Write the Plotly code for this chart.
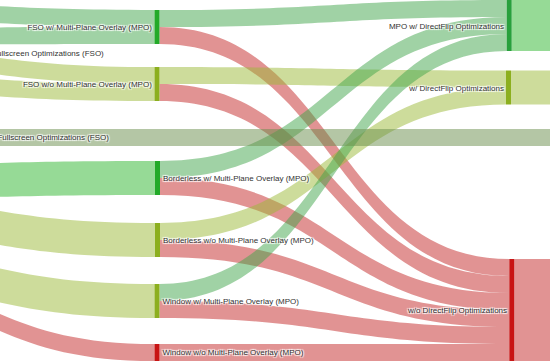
import plotly.graph_objects as go

# ---- data ----
labels = [
    "",                                          # 0  FSO w/ MPO (label via 24)
    "",                                          # 1  FSO w/o MPO (label via 25)
    "Borderless w/ Multi-Plane Overlay (MPO)",   # 2
    "Borderless w/o Multi-Plane Overlay (MPO)",  # 3
    "Window w/ Multi-Plane Overlay (MPO)",       # 4
    "Window w/o Multi-Plane Overlay (MPO)",      # 5
    "", "", "",                                  # 6-8 DirectFlip nodes (labels via 26-28)
    "Fullscreen Optimizations (FSO)",            # 9
    "Fullscreen Optimizations (FSO)",            # 10
    "", "", "", "", "", "", "", "",              # 11-18 upstream (off-canvas)
    "", "", "", "", "",                          # 19-23 downstream (off-canvas)
    "FSO w/ Multi-Plane Overlay (MPO)",          # 24
    "FSO w/o Multi-Plane Overlay (MPO)",         # 25
    "MPO w/ DirectFlip Optimizations",           # 26
    "w/ DirectFlip Optimizations",               # 27
    "w/o DirectFlip Optimizations",              # 28
    "",                                          # 29
]

EPS = 0.001
link_source = [11, 12, 13, 14, 15, 16, 17, 18,
               0, 0, 1, 1, 2, 2, 3, 3, 4, 4, 5,
               6, 7, 8, 10, 9,
               29, 29, 29, 29, 29]
link_target = [0, 0, 1, 1, 2, 3, 4, 5,
               6, 8, 7, 8, 6, 8, 7, 8, 6, 8, 8,
               19, 20, 21, 22, 23,
               24, 25, 26, 27, 28]
link_value = [1, 1, 1, 1, 2, 2, 2, 1,
              1, 1, 1, 1, 1, 1, 1, 1, 1, 1, 1,
              3, 2, 6, 1, 1,
              EPS, EPS, EPS, EPS, EPS]

GM = "rgba(65,165,75,0.5)"
GB = "rgba(45,181,45,0.5)"
YL = "rgba(155,185,55,0.5)"
RD = "rgba(195,40,40,0.5)"
GY = "rgba(105,141,75,0.5)"
NONE = "rgba(0,0,0,0)"
link_color = [GM, GM, YL, YL, GB, YL, YL, RD,
              GM, RD, YL, RD, GM, RD, YL, RD, GM, RD, RD,
              GB, YL, RD, GY, NONE,
              NONE, NONE, NONE, NONE, NONE]

NG = "rgb(34,170,40)"
NG2 = "rgb(40,160,60)"
NO = "rgb(140,175,30)"
NR = "rgb(200,20,20)"
node_color = ([NG, NO, NG, NO, NO, NR, NG2, NO, NR, NO, NO]
              + [NO] * 8 + [NO] * 5
              + [NONE] * 6)

W, H = 550, 362
node_px_x = ([157, 157, 157.5, 157.5, 157, 157, 509.2, 508.5, 511.8, -13.3, -8.1]
             + [-202.5] * 8 + [860] * 5
             + [21.9, 17.4, 383.4, 403.8, 402.4, -300])
node_px_y = ([27, 84, 178, 240, 301, 352.5, 25.5, 87.5, 310, 53, 137.5]
             + [8.7, 36.5, 51.1, 80.3, 183, 208, 259.6, 272]
             + [25.5, 87.5, 310, 137.5, 200]
             + [27, 84, 25.5, 87.5, 310, 200])

fig = go.Figure(go.Sankey(
    arrangement="fixed",
    node=dict(
        label=labels,
        color=node_color,
        x=[v / W for v in node_px_x],
        y=[v / H for v in node_px_y],
        pad=14.1,
        thickness=5,
        line=dict(width=0),
        align="justify",
    ),
    link=dict(source=link_source, target=link_target, value=link_value,
              color=link_color),
    textfont=dict(family="Arial", size=8, color="#333"),
))
fig.update_layout(width=W, height=H, margin=dict(l=0, r=0, t=0, b=0),
                  paper_bgcolor="white")
fig.write_html("out.html",
               config={"displayModeBar": False},
               post_script="document.body.style.margin='0';document.body.style.overflow='hidden';")
